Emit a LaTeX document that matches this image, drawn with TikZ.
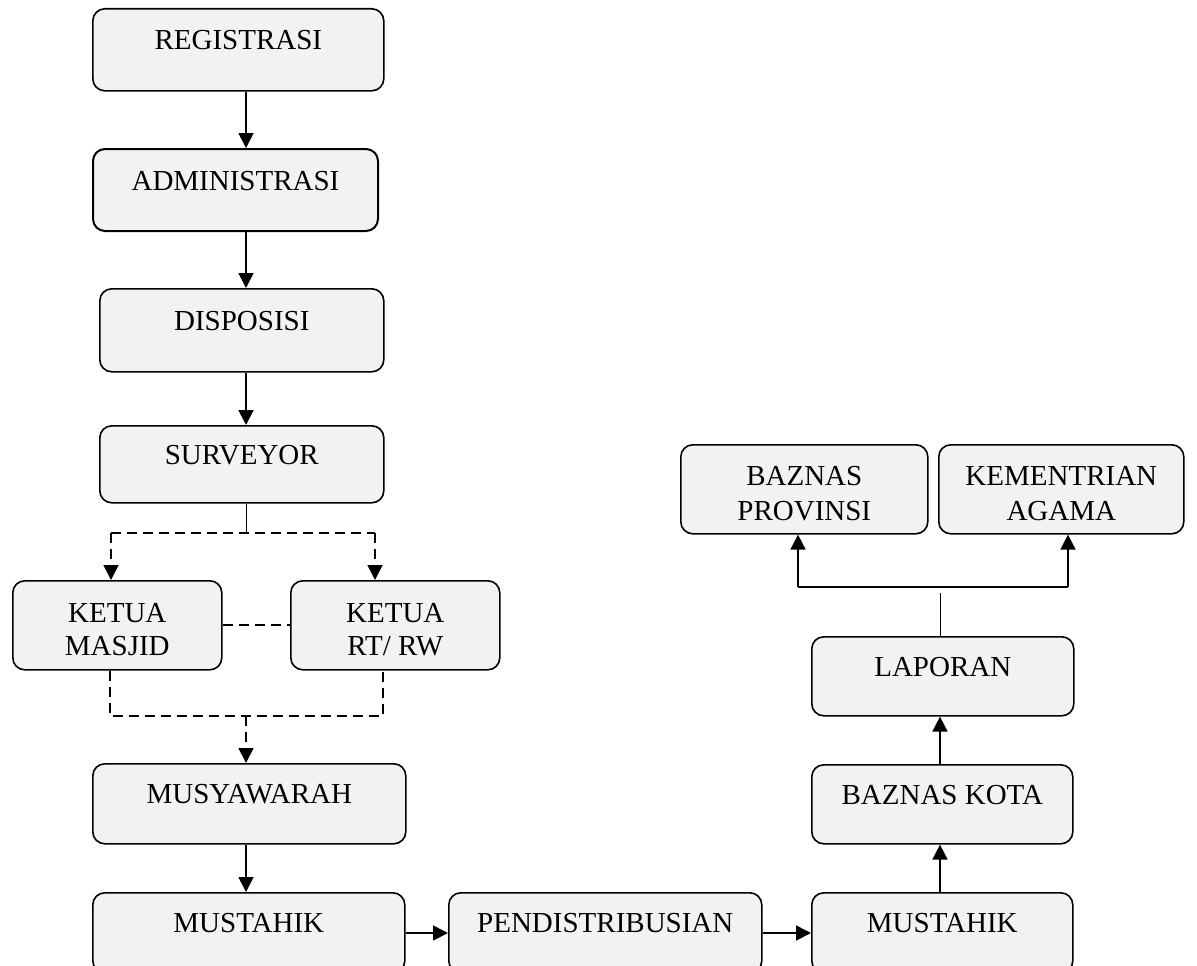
\documentclass[tikz,border=0pt]{standalone}
\usepackage{fontspec}
\setmainfont{Liberation Serif}
\usetikzlibrary{arrows.meta}
\definecolor{boxgray}{HTML}{F2F2F2}
\tikzset{
  box/.style={draw, rounded corners=12pt, fill=boxgray, line width=1.6pt, inner sep=0pt,
    anchor=north west, font=\fontsize{29}{33}\selectfont, text height=20pt, text depth=20pt},
  boxtwo/.style={draw, rounded corners=12pt, fill=boxgray, line width=1.6pt, inner sep=0pt,
    anchor=north west, font=\fontsize{29}{33}\selectfont, align=center},
  arr/.style={line width=1.7pt, -{Triangle[length=15pt,width=15pt]}},
  darr/.style={line width=1.7pt, dash pattern=on 10pt off 6pt, -{Triangle[length=15pt,width=15pt]}},
  dline/.style={line width=1.7pt, dash pattern=on 10pt off 6pt},
  sline/.style={line width=1.7pt},
  thin/.style={line width=0.9pt}
}
\begin{document}
\begin{tikzpicture}[x=1pt,y=-1pt]
\useasboundingbox (0,0) rectangle (1197,966);
\clip (0,0) rectangle (1197,966);
% left column
\node[box, minimum width=291pt, minimum height=82pt] (reg) at (92,8) {REGISTRASI};
\node[box, line width=2pt, minimum width=285pt, minimum height=82pt] (adm) at (92,148) {ADMINISTRASI};
\node[box, minimum width=284pt, minimum height=83pt] (disp) at (99,288) {DISPOSISI};
\node[box, minimum width=284pt, minimum height=77pt] (surv) at (99,425) {SURVEYOR};
\node[boxtwo, minimum width=209pt, minimum height=89pt] (km) at (12,580) {\rule{0pt}{28pt}KETUA\\MASJID};
\node[boxtwo, minimum width=209pt, minimum height=89pt] (krt) at (290,580) {\rule{0pt}{28pt}KETUA\\RT/ RW};
\node[box, minimum width=313pt, minimum height=80pt] (mus) at (92,763) {MUSYAWARAH};
% bottom row
\node[box, minimum width=312pt, minimum height=80pt] (must1) at (92,892) {MUSTAHIK};
\node[box, minimum width=313pt, minimum height=80pt] (pend) at (448,892) {PENDISTRIBUSIAN};
\node[box, minimum width=261pt, minimum height=80pt] (must2) at (811,892) {MUSTAHIK};
% right column
\node[box, minimum width=261pt, minimum height=79pt] (bkota) at (811,764) {BAZNAS KOTA};
\node[box, minimum width=262pt, minimum height=79pt] (lap) at (811,636) {LAPORAN};
\node[boxtwo, font=\fontsize{29}{35}\selectfont, minimum width=247pt, minimum height=89pt] (bprov) at (680,444) {\rule{0pt}{28pt}BAZNAS\\PROVINSI};
\node[boxtwo, font=\fontsize{29}{35}\selectfont, minimum width=245pt, minimum height=89pt] (kem) at (938,444) {\rule{0pt}{28pt}KEMENTRIAN\\AGAMA};

% helper coordinates
\coordinate (sp) at (246,0);
\coordinate (split) at (246,533);
\coordinate (sl) at (111,533);
\coordinate (sr) at (375,533);
\coordinate (jl) at (110,716);
\coordinate (jr) at (383,716);
\coordinate (jm) at (246,716);
\coordinate (row) at (0,933);
\coordinate (rsp) at (940,0);
\coordinate (lt) at (940,593);
\coordinate (hl) at (798,587);
\coordinate (hr) at (1068,587);

% left column connectors
\draw[arr] (reg.south -| sp) -- (adm.north -| sp);
\draw[arr] (adm.south -| sp) -- (disp.north -| sp);
\draw[arr] (disp.south -| sp) -- (surv.north -| sp);
\draw[thin] (surv.south -| sp) -- (split);
\draw[dline] (sl) -- (sr);
\draw[darr] (sl) -- (km.north -| sl);
\draw[darr] (sr) -- (krt.north -| sr);
\draw[dline] (km.east) -- (krt.west);
\draw[dline] (km.south -| jl) -- (jl) -- (jr) -- (krt.south -| jr);
\draw[darr] (jm) -- (mus.north -| jm);
\draw[arr] (mus.south -| sp) -- (must1.north -| sp);

% bottom row connectors
\draw[arr] (must1.east |- row) -- (pend.west |- row);
\draw[arr] (pend.east |- row) -- (must2.west |- row);

% right column connectors
\draw[arr] (must2.north -| rsp) -- (bkota.south -| rsp);
\draw[arr] (bkota.north -| rsp) -- (lap.south -| rsp);
\draw[thin] (lap.north -| rsp) -- (lt);
\draw[sline] (hl) -- (hr);
\draw[arr] (hl) -- (bprov.south -| hl);
\draw[arr] (hr) -- (kem.south -| hr);
\end{tikzpicture}
\end{document}
